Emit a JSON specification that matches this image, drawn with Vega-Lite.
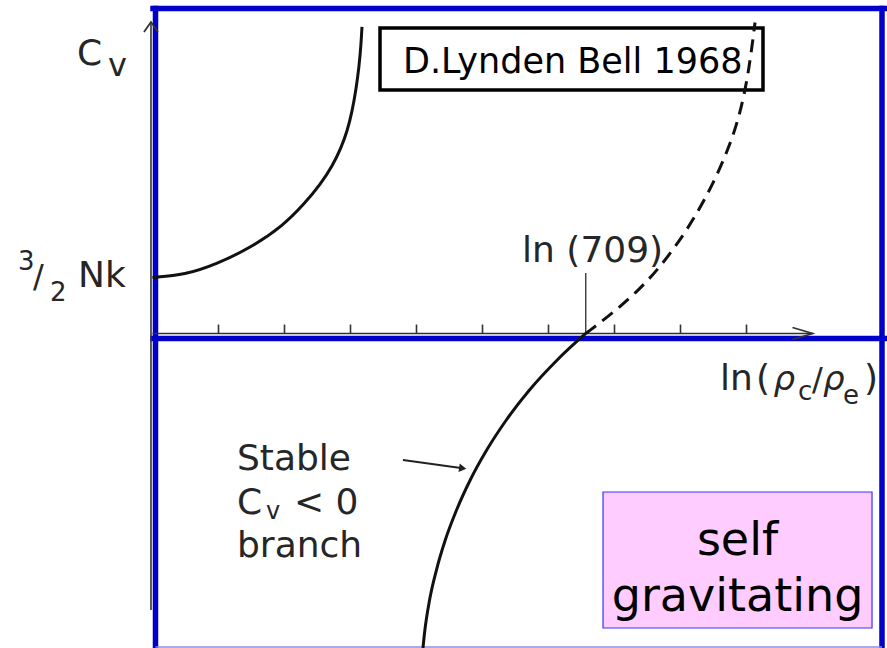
{
  "$schema": "https://vega.github.io/schema/vega-lite/v6.json",
  "width": 887,
  "height": 648,
  "autosize": "none",
  "padding": 0,
  "background": "white",
  "config": {"view": {"stroke": null}},
  "datasets": {
    "upper": [
      {"x": 0.0, "cv": 1.5}, {"x": 0.492, "cv": 1.567}, {"x": 0.977, "cv": 1.862},
      {"x": 1.477, "cv": 2.29}, {"x": 1.977, "cv": 2.88}, {"x": 2.311, "cv": 3.496},
      {"x": 2.538, "cv": 3.978}, {"x": 2.735, "cv": 4.514}, {"x": 2.856, "cv": 4.969},
      {"x": 2.947, "cv": 5.398}, {"x": 3.023, "cv": 5.933}, {"x": 3.083, "cv": 6.523},
      {"x": 3.129, "cv": 7.139}, {"x": 3.159, "cv": 7.729}, {"x": 3.174, "cv": 8.211}
    ],
    "unstable": [
      {"x": 6.564, "cv": 0}, {"x": 6.977, "cv": 0.549}, {"x": 7.386, "cv": 1.192},
      {"x": 7.689, "cv": 1.782}, {"x": 7.962, "cv": 2.424}, {"x": 8.22, "cv": 3.121},
      {"x": 8.492, "cv": 4.005}, {"x": 8.72, "cv": 4.916}, {"x": 8.902, "cv": 5.853},
      {"x": 9.038, "cv": 7.045}, {"x": 9.129, "cv": 8.331}
    ],
    "stable": [
      {"x": 4.098, "cv": -8.425}, {"x": 4.127, "cv": -7.943}, {"x": 4.198, "cv": -7.139},
      {"x": 4.302, "cv": -6.336}, {"x": 4.436, "cv": -5.532}, {"x": 4.607, "cv": -4.728},
      {"x": 4.814, "cv": -3.924}, {"x": 5.064, "cv": -3.121}, {"x": 5.361, "cv": -2.317},
      {"x": 5.712, "cv": -1.514}, {"x": 6.132, "cv": -0.71}, {"x": 6.564, "cv": 0}
    ],
    "ticks": [
      {"x": 1}, {"x": 2}, {"x": 3}, {"x": 4}, {"x": 5}, {"x": 6}, {"x": 7}, {"x": 8}, {"x": 9}
    ],
    "frame": [
      {"x": 0.0455, "x2": 0.0455, "y": 8.706, "y2": -8.6},
      {"x": 11.053, "x2": 11.053, "y": 8.706, "y2": -8.6},
      {"x": 0.0076, "x2": 11.09, "y": 8.706, "y2": 8.706},
      {"x": 0.0076, "x2": 11.2, "y": -0.134, "y2": -0.134}
    ],
    "axes": [
      {"x": 0, "x2": 10.0, "y": 0, "y2": 0},
      {"x": -0.023, "x2": -0.023, "y": 8.3, "y2": -7.41}
    ],
    "big": [
      {"t": "C", "x": -1.144, "y": 7.193},
      {"t": "Nk", "x": -1.129, "y": 1.246},
      {"t": "ln (709)", "x": 5.6, "y": 1.92},
      {"t": "ln", "x": 8.598, "y": -1.514},
      {"t": "(", "x": 9.144, "y": -1.514},
      {"t": ")", "x": 10.78, "y": -1.514},
      {"t": "Stable", "x": 1.28, "y": -3.656},
      {"t": "C", "x": 1.28, "y": -4.835},
      {"t": "< 0", "x": 2.144, "y": -4.835},
      {"t": "branch", "x": 1.28, "y": -5.987}
    ],
    "small": [
      {"t": "3", "x": -2.038, "y": 1.701},
      {"t": "2", "x": -1.553, "y": 0.871},
      {"t": "c", "x": 9.78, "y": -1.781},
      {"t": "e", "x": 10.462, "y": -1.889}
    ],
    "slash": [
      {"t": "/", "x": -1.811, "y": 1.246},
      {"t": "/", "x": 9.992, "y": -1.514}
    ],
    "rho": [
      {"t": "ρ", "x": 9.41, "y": -1.514},
      {"t": "ρ", "x": 10.159, "y": -1.514}
    ]
  },
  "layer": [
    {
      "data": {"name": "frame"},
      "mark": {"type": "rule", "color": "#0000c8", "strokeWidth": 5.5, "strokeCap": "square"},
      "encoding": {
        "x": {"field": "x", "type": "quantitative", "scale": {"domain": [-2.3106, 11.1288], "nice": false, "zero": false}, "axis": null},
        "x2": {"field": "x2"},
        "y": {"field": "y", "type": "quantitative", "scale": {"domain": [-8.4246, 8.933], "nice": false, "zero": false}, "axis": null},
        "y2": {"field": "y2"}
      }
    },
    {
      "data": {"values": [{"x": 0.0455, "x2": 11.053, "y": -8.398}]},
      "mark": {"type": "rule", "color": "#8c8ce8", "strokeWidth": 1.5},
      "encoding": {
        "x": {"field": "x", "type": "quantitative"},
        "x2": {"field": "x2"},
        "y": {"field": "y", "type": "quantitative"}
      }
    },
    {
      "data": {"name": "axes"},
      "mark": {"type": "rule", "color": "#333", "strokeWidth": 1.6},
      "encoding": {
        "x": {"field": "x", "type": "quantitative"},
        "x2": {"field": "x2"},
        "y": {"field": "y", "type": "quantitative"},
        "y2": {"field": "y2"}
      }
    },
    {
      "data": {"name": "ticks"},
      "mark": {"type": "rule", "color": "#333", "strokeWidth": 1.6},
      "encoding": {
        "x": {"field": "x", "type": "quantitative"},
        "y": {"datum": 0, "type": "quantitative"},
        "y2": {"datum": 0.24}
      }
    },
    {
      "data": {"values": [{"x": 10.0, "y": 0}]},
      "mark": {"type": "point", "shape": "M -1 -0.3 L 0 0 L -1 0.3", "size": 1600, "filled": false, "stroke": "#333", "strokeWidth": 1.8, "opacity": 1},
      "encoding": {
        "x": {"field": "x", "type": "quantitative"},
        "y": {"field": "y", "type": "quantitative"}
      }
    },
    {
      "data": {"values": [{"x": -0.023, "y": 8.344}]},
      "mark": {"type": "point", "shape": "M -0.7 1 L 0 0 L 0.7 1", "size": 400, "filled": false, "stroke": "#333", "strokeWidth": 1.8, "opacity": 1},
      "encoding": {
        "x": {"field": "x", "type": "quantitative"},
        "y": {"field": "y", "type": "quantitative"}
      }
    },
    {
      "data": {"values": [{"x": 6.564, "y": 0, "y2": 1.62}]},
      "mark": {"type": "rule", "color": "#444", "strokeWidth": 1.5},
      "encoding": {
        "x": {"field": "x", "type": "quantitative"},
        "y": {"field": "y", "type": "quantitative"},
        "y2": {"field": "y2"}
      }
    },
    {
      "data": {"name": "upper"},
      "mark": {"type": "line", "color": "#111", "strokeWidth": 3, "interpolate": "basis"},
      "encoding": {
        "x": {"field": "x", "type": "quantitative"},
        "y": {"field": "cv", "type": "quantitative"}
      }
    },
    {
      "data": {"name": "stable"},
      "mark": {"type": "line", "color": "#111", "strokeWidth": 3, "interpolate": "monotone"},
      "encoding": {
        "x": {"field": "x", "type": "quantitative"},
        "y": {"field": "cv", "type": "quantitative"}
      }
    },
    {
      "data": {"values": [{"x": 3.447, "x2": 9.25, "y": 8.184, "y2": 6.523}]},
      "mark": {"type": "rect", "fill": "white", "stroke": "black", "strokeWidth": 3.5},
      "encoding": {
        "x": {"field": "x", "type": "quantitative"},
        "x2": {"field": "x2"},
        "y": {"field": "y", "type": "quantitative"},
        "y2": {"field": "y2"}
      }
    },
    {
      "data": {"values": [{"t": "D.Lynden Bell 1968", "x": 3.795, "y": 6.978}]},
      "mark": {"type": "text", "font": "DejaVu Sans", "fontSize": 35, "align": "left", "baseline": "alphabetic", "color": "black"},
      "encoding": {
        "x": {"field": "x", "type": "quantitative"},
        "y": {"field": "y", "type": "quantitative"},
        "text": {"field": "t"}
      }
    },
    {
      "data": {"name": "unstable"},
      "mark": {"type": "line", "color": "#111", "strokeWidth": 3, "strokeDash": [13, 8], "interpolate": "basis"},
      "encoding": {
        "x": {"field": "x", "type": "quantitative"},
        "y": {"field": "cv", "type": "quantitative"}
      }
    },
    {
      "data": {"values": [{"x": 3.795, "y": -3.389, "x2": 4.7, "y2": -3.61}]},
      "mark": {"type": "rule", "color": "#222", "strokeWidth": 1.8},
      "encoding": {
        "x": {"field": "x", "type": "quantitative"},
        "x2": {"field": "x2"},
        "y": {"field": "y", "type": "quantitative"},
        "y2": {"field": "y2"}
      }
    },
    {
      "data": {"values": [{"x": 4.7, "y": -3.61}]},
      "mark": {"type": "point", "shape": "triangle-right", "size": 70, "filled": true, "color": "#222", "angle": 8, "opacity": 1},
      "encoding": {
        "x": {"field": "x", "type": "quantitative"},
        "y": {"field": "y", "type": "quantitative"}
      }
    },
    {
      "data": {"name": "big"},
      "mark": {"type": "text", "font": "DejaVu Sans", "fontSize": 36, "align": "left", "baseline": "alphabetic", "color": "#262626"},
      "encoding": {
        "x": {"field": "x", "type": "quantitative"},
        "y": {"field": "y", "type": "quantitative"},
        "text": {"field": "t"}
      }
    },
    {
      "data": {"values": [{"t": "v", "x": -0.674, "y": 6.898}]},
      "mark": {"type": "text", "font": "DejaVu Sans", "fontSize": 32, "align": "left", "baseline": "alphabetic", "color": "#262626"},
      "encoding": {
        "x": {"field": "x", "type": "quantitative"},
        "y": {"field": "y", "type": "quantitative"},
        "text": {"field": "t"}
      }
    },
    {
      "data": {"values": [{"t": "v", "x": 1.72, "y": -4.969}]},
      "mark": {"type": "text", "font": "DejaVu Sans", "fontSize": 24, "align": "left", "baseline": "alphabetic", "color": "#262626"},
      "encoding": {
        "x": {"field": "x", "type": "quantitative"},
        "y": {"field": "y", "type": "quantitative"},
        "text": {"field": "t"}
      }
    },
    {
      "data": {"name": "small"},
      "mark": {"type": "text", "font": "DejaVu Sans", "fontSize": 26, "align": "left", "baseline": "alphabetic", "color": "#262626"},
      "encoding": {
        "x": {"field": "x", "type": "quantitative"},
        "y": {"field": "y", "type": "quantitative"},
        "text": {"field": "t"}
      }
    },
    {
      "data": {"name": "slash"},
      "mark": {"type": "text", "font": "DejaVu Sans", "fontSize": 32, "align": "left", "baseline": "alphabetic", "color": "#262626"},
      "encoding": {
        "x": {"field": "x", "type": "quantitative"},
        "y": {"field": "y", "type": "quantitative"},
        "text": {"field": "t"}
      }
    },
    {
      "data": {"name": "rho"},
      "mark": {"type": "text", "font": "DejaVu Sans", "fontStyle": "italic", "fontSize": 34, "align": "left", "baseline": "alphabetic", "color": "#262626"},
      "encoding": {
        "x": {"field": "x", "type": "quantitative"},
        "y": {"field": "y", "type": "quantitative"},
        "text": {"field": "t"}
      }
    },
    {
      "data": {"values": [{"x": 6.826, "x2": 10.902, "y": -4.246, "y2": -7.889}]},
      "mark": {"type": "rect", "fill": "#ffccff", "stroke": "#3333ff", "strokeWidth": 1.2},
      "encoding": {
        "x": {"field": "x", "type": "quantitative"},
        "x2": {"field": "x2"},
        "y": {"field": "y", "type": "quantitative"},
        "y2": {"field": "y2"}
      }
    },
    {
      "data": {"values": [{"t": "self", "x": 8.864, "y": -5.934}, {"t": "gravitating", "x": 8.864, "y": -7.434}]},
      "mark": {"type": "text", "font": "DejaVu Sans", "fontSize": 46, "align": "center", "baseline": "alphabetic", "color": "black"},
      "encoding": {
        "x": {"field": "x", "type": "quantitative"},
        "y": {"field": "y", "type": "quantitative"},
        "text": {"field": "t"}
      }
    }
  ]
}
